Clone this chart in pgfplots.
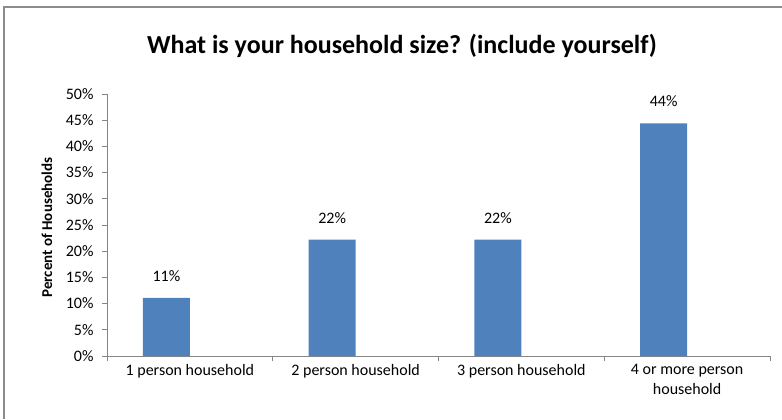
\documentclass[border=0pt]{standalone}
\usepackage{pgfplots}
\pgfplotsset{compat=1.18}
\usepackage{fontspec}
\setmainfont{Carlito}
\definecolor{barblue}{HTML}{4F81BD}
\definecolor{axgray}{HTML}{868686}
\definecolor{framegray}{HTML}{8C8C8C}
\begin{document}
\begin{tikzpicture}[x=1bp,y=1bp]
\path[use as bounding box] (0,0) rectangle (782,419);
\draw[framegray, line width=2bp] (4,0) -- (4,412) -- (782,412);
\node[font=\fontsize{26bp}{30bp}\selectfont\bfseries, anchor=base] at (402,366) {What is your household size? (include yourself)};
\begin{axis}[
  at={(107bp,63bp)}, anchor=south west,
  width=663bp, height=262bp, scale only axis,
  xmin=-0.5, xmax=3.5, ymin=0, ymax=50,
  axis lines*=left,
  axis line style={axgray, line width=0.8bp},
  tick align=outside,
  major tick length=5bp, minor tick length=5bp,
  every tick/.style={axgray, line width=0.8bp},
  xtick={0,1,2,3},
  xticklabels={1 person household, 2 person household, 3 person household, {4 or more person\\household}},
  major x tick style={draw=none},
  minor xtick={-0.5,0.5,1.5,2.5,3.5},
  x tick label style={align=center, font=\fontsize{16bp}{19.5bp}\selectfont, text=black},
  ytick={0,5,...,50},
  yticklabel={\pgfmathprintnumber{\tick}\%},
  y tick label style={font=\fontsize{16bp}{19.5bp}\selectfont, text=black, xshift=-5bp},
  /pgf/number format/assume math mode=true,
  ylabel={Percent of Households},
  ylabel style={at={(axis description cs:-0.0905,0.4905)}, anchor=center, rotate=0, font=\fontsize{15bp}{18bp}\selectfont\bfseries},
  ybar, bar width=47bp, bar shift=-23.5bp,
  nodes near coords={\pgfmathprintnumber[fixed,precision=0]{\pgfplotspointmeta}\%},
  every node near coord/.append style={font=\fontsize{16bp}{19.5bp}\selectfont, text=black, anchor=base, yshift=16.5bp},
]
\addplot[fill=barblue, draw=none] coordinates {(0,11.1) (1,22.2) (2,22.2) (3,44.4)};
\end{axis}
\end{tikzpicture}
\end{document}
